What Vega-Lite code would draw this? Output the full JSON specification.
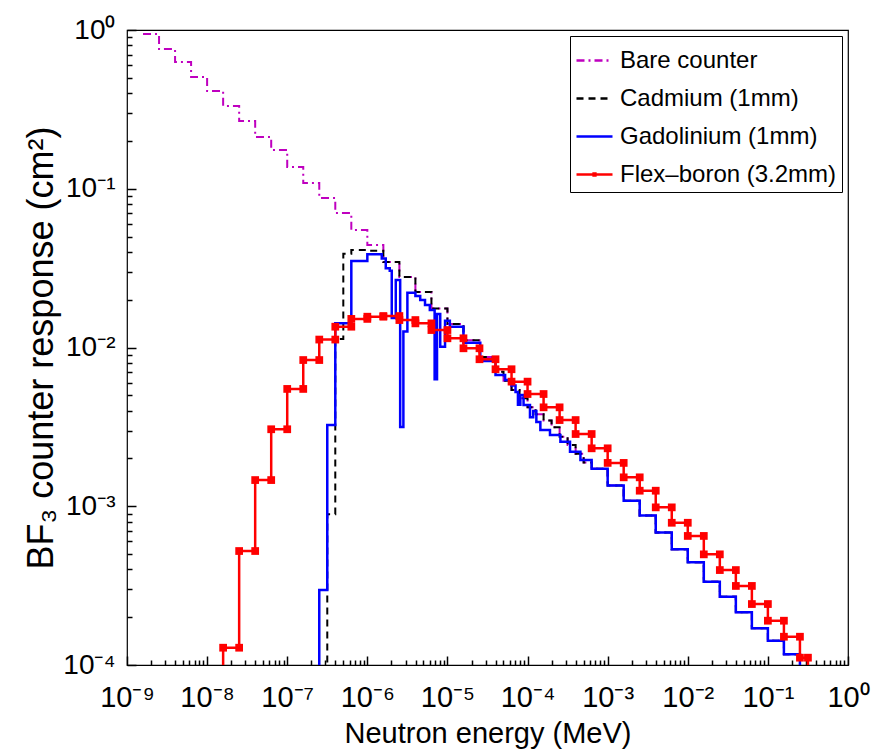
{
  "$schema": "https://vega.github.io/schema/vega-lite/v6.json",
  "autosize": {"type": "none"},
  "width": 721,
  "height": 635,
  "padding": {"left": 127, "top": 30, "right": 33, "bottom": 91},
  "background": "white",
  "config": {
    "font": "Liberation Sans",
    "view": {"stroke": "black", "strokeWidth": 1.2, "fill": null},
    "axis": {"labelColor": "black", "titleColor": "black", "titleFontWeight": "normal", "grid": false, "domain": false, "labelOverlap": false, "labelFlush": false, "labelBound": false}
  },
  "data": {"values": [
    {"s":"Bare counter","E":1.585e-9,"R":0.9441},
    {"s":"Bare counter","E":2.512e-9,"R":0.7586},
    {"s":"Bare counter","E":3.981e-9,"R":0.6281},
    {"s":"Bare counter","E":6.310e-9,"R":0.5058},
    {"s":"Bare counter","E":1e-8,"R":0.4130},
    {"s":"Bare counter","E":1.585e-8,"R":0.3319},
    {"s":"Bare counter","E":2.512e-8,"R":0.2673},
    {"s":"Bare counter","E":3.981e-8,"R":0.2118},
    {"s":"Bare counter","E":6.310e-8,"R":0.1754},
    {"s":"Bare counter","E":1e-7,"R":0.1371},
    {"s":"Bare counter","E":1.585e-7,"R":0.1086},
    {"s":"Bare counter","E":2.512e-7,"R":0.0875},
    {"s":"Bare counter","E":3.981e-7,"R":0.07031},
    {"s":"Bare counter","E":6.310e-7,"R":0.05495},
    {"s":"Bare counter","E":1e-6,"R":0.04426},
    {"s":"Bare counter","E":1.585e-6,"R":0.03451},
    {"s":"Bare counter","E":2.512e-6,"R":0.02780},
    {"s":"Bare counter","E":3.981e-6,"R":0.02239},
    {"s":"Bare counter","E":6.310e-6,"R":0.01758},
    {"s":"Bare counter","E":1e-5,"R":0.01406},
    {"s":"Bare counter","E":1.585e-5,"R":0.01109},
    {"s":"Bare counter","E":2.512e-5,"R":0.00871},
    {"s":"Bare counter","E":3.981e-5,"R":0.007047},
    {"s":"Bare counter","E":5.012e-5,"R":0.00618},
    {"s":"Bare counter","E":6.310e-5,"R":0.005395},
    {"s":"Bare counter","E":7.943e-5,"R":0.004786},
    {"s":"Bare counter","E":1e-4,"R":0.004198},
    {"s":"Bare counter","E":1.259e-4,"R":0.003802},
    {"s":"Bare counter","E":1.585e-4,"R":0.003467},
    {"s":"Bare counter","E":1.995e-4,"R":0.003141},
    {"s":"Bare counter","E":2.512e-4,"R":0.002742},
    {"s":"Bare counter","E":3.162e-4,"R":0.002432},
    {"s":"Bare counter","E":3.981e-4,"R":0.002138},
    {"s":"Bare counter","E":5.012e-4,"R":0.001884},
    {"s":"Bare counter","E":6.310e-4,"R":0.001722},
    {"s":"Bare counter","E":1e-3,"R":0.001349},
    {"s":"Bare counter","E":1.585e-3,"R":0.001084},
    {"s":"Bare counter","E":2.512e-3,"R":0.000873},
    {"s":"Bare counter","E":3.981e-3,"R":0.0006823},
    {"s":"Bare counter","E":6.310e-3,"R":0.0005358},
    {"s":"Bare counter","E":1e-2,"R":0.0004436},
    {"s":"Bare counter","E":1.585e-2,"R":0.000335},
    {"s":"Bare counter","E":2.512e-2,"R":0.0002692},
    {"s":"Bare counter","E":3.981e-2,"R":0.0002148},
    {"s":"Bare counter","E":6.310e-2,"R":0.0001702},
    {"s":"Bare counter","E":0.1,"R":0.0001422},
    {"s":"Bare counter","E":0.1585,"R":0.0001167},
    {"s":"Bare counter","E":0.2512,"R":0.0001167},

    {"s":"Cadmium (1mm)","E":2.818e-7,"R":1e-6},
    {"s":"Cadmium (1mm)","E":3.162e-7,"R":0.0008892},
    {"s":"Cadmium (1mm)","E":3.981e-7,"R":0.0113},
    {"s":"Cadmium (1mm)","E":5.012e-7,"R":0.0389},
    {"s":"Cadmium (1mm)","E":6.310e-7,"R":0.04111},
    {"s":"Cadmium (1mm)","E":1e-6,"R":0.04074},
    {"s":"Cadmium (1mm)","E":1.585e-6,"R":0.03451},
    {"s":"Cadmium (1mm)","E":2.512e-6,"R":0.02780},
    {"s":"Cadmium (1mm)","E":3.981e-6,"R":0.02239},
    {"s":"Cadmium (1mm)","E":6.310e-6,"R":0.01758},
    {"s":"Cadmium (1mm)","E":1e-5,"R":0.01406},
    {"s":"Cadmium (1mm)","E":1.585e-5,"R":0.01109},
    {"s":"Cadmium (1mm)","E":2.512e-5,"R":0.00871},
    {"s":"Cadmium (1mm)","E":3.981e-5,"R":0.007047},
    {"s":"Cadmium (1mm)","E":5.012e-5,"R":0.00618},
    {"s":"Cadmium (1mm)","E":6.310e-5,"R":0.005395},
    {"s":"Cadmium (1mm)","E":7.943e-5,"R":0.004786},
    {"s":"Cadmium (1mm)","E":1e-4,"R":0.004198},
    {"s":"Cadmium (1mm)","E":1.259e-4,"R":0.003802},
    {"s":"Cadmium (1mm)","E":1.585e-4,"R":0.003467},
    {"s":"Cadmium (1mm)","E":1.995e-4,"R":0.003141},
    {"s":"Cadmium (1mm)","E":2.512e-4,"R":0.002742},
    {"s":"Cadmium (1mm)","E":3.162e-4,"R":0.002432},
    {"s":"Cadmium (1mm)","E":3.981e-4,"R":0.002138},
    {"s":"Cadmium (1mm)","E":5.012e-4,"R":0.001884},
    {"s":"Cadmium (1mm)","E":6.310e-4,"R":0.001722},
    {"s":"Cadmium (1mm)","E":1e-3,"R":0.001349},
    {"s":"Cadmium (1mm)","E":1.585e-3,"R":0.001084},
    {"s":"Cadmium (1mm)","E":2.512e-3,"R":0.000873},
    {"s":"Cadmium (1mm)","E":3.981e-3,"R":0.0006823},
    {"s":"Cadmium (1mm)","E":6.310e-3,"R":0.0005358},
    {"s":"Cadmium (1mm)","E":1e-2,"R":0.0004436},
    {"s":"Cadmium (1mm)","E":1.585e-2,"R":0.000335},
    {"s":"Cadmium (1mm)","E":2.512e-2,"R":0.0002692},
    {"s":"Cadmium (1mm)","E":3.981e-2,"R":0.0002148},
    {"s":"Cadmium (1mm)","E":6.310e-2,"R":0.0001702},
    {"s":"Cadmium (1mm)","E":0.1,"R":0.0001422},
    {"s":"Cadmium (1mm)","E":0.1585,"R":0.0001167},
    {"s":"Cadmium (1mm)","E":0.2512,"R":0.0001167},

    {"s":"Gadolinium (1mm)","E":2.239e-7,"R":1e-6},
    {"s":"Gadolinium (1mm)","E":2.512e-7,"R":0.0002965},
    {"s":"Gadolinium (1mm)","E":3.162e-7,"R":0.003251},
    {"s":"Gadolinium (1mm)","E":3.981e-7,"R":0.01419},
    {"s":"Gadolinium (1mm)","E":6.310e-7,"R":0.03508},
    {"s":"Gadolinium (1mm)","E":1e-6,"R":0.03864},
    {"s":"Gadolinium (1mm)","E":1.514e-6,"R":0.03631},
    {"s":"Gadolinium (1mm)","E":1.698e-6,"R":0.03162},
    {"s":"Gadolinium (1mm)","E":1.905e-6,"R":0.03048},
    {"s":"Gadolinium (1mm)","E":2.018e-6,"R":0.01535},
    {"s":"Gadolinium (1mm)","E":2.265e-6,"R":0.02661},
    {"s":"Gadolinium (1mm)","E":2.570e-6,"R":0.003162},
    {"s":"Gadolinium (1mm)","E":2.818e-6,"R":0.01259},
    {"s":"Gadolinium (1mm)","E":3.162e-6,"R":0.02213},
    {"s":"Gadolinium (1mm)","E":3.981e-6,"R":0.02109},
    {"s":"Gadolinium (1mm)","E":4.571e-6,"R":0.01991},
    {"s":"Gadolinium (1mm)","E":5.248e-6,"R":0.01854},
    {"s":"Gadolinium (1mm)","E":6.026e-6,"R":0.01722},
    {"s":"Gadolinium (1mm)","E":6.918e-6,"R":0.00631},
    {"s":"Gadolinium (1mm)","E":7.413e-6,"R":0.01626},
    {"s":"Gadolinium (1mm)","E":8.128e-6,"R":0.01012},
    {"s":"Gadolinium (1mm)","E":9.333e-6,"R":0.01476},
    {"s":"Gadolinium (1mm)","E":1.072e-5,"R":0.01349},
    {"s":"Gadolinium (1mm)","E":1.585e-5,"R":0.01072},
    {"s":"Gadolinium (1mm)","E":2.570e-5,"R":0.008222},
    {"s":"Gadolinium (1mm)","E":3.981e-5,"R":0.006714},
    {"s":"Gadolinium (1mm)","E":5.248e-5,"R":0.006237},
    {"s":"Gadolinium (1mm)","E":6.310e-5,"R":0.005754},
    {"s":"Gadolinium (1mm)","E":7.079e-5,"R":0.005248},
    {"s":"Gadolinium (1mm)","E":7.586e-5,"R":0.004365},
    {"s":"Gadolinium (1mm)","E":8.128e-5,"R":0.005012},
    {"s":"Gadolinium (1mm)","E":8.913e-5,"R":0.004345},
    {"s":"Gadolinium (1mm)","E":1.072e-4,"R":0.003631},
    {"s":"Gadolinium (1mm)","E":1.175e-4,"R":0.003981},
    {"s":"Gadolinium (1mm)","E":1.288e-4,"R":0.003388},
    {"s":"Gadolinium (1mm)","E":1.445e-4,"R":0.00302},
    {"s":"Gadolinium (1mm)","E":1.905e-4,"R":0.002812},
    {"s":"Gadolinium (1mm)","E":2.570e-4,"R":0.002553},
    {"s":"Gadolinium (1mm)","E":3.388e-4,"R":0.002208},
    {"s":"Gadolinium (1mm)","E":4.571e-4,"R":0.001954},
    {"s":"Gadolinium (1mm)","E":6.310e-4,"R":0.001722},
    {"s":"Gadolinium (1mm)","E":1e-3,"R":0.001349},
    {"s":"Gadolinium (1mm)","E":1.585e-3,"R":0.001084},
    {"s":"Gadolinium (1mm)","E":2.512e-3,"R":0.000873},
    {"s":"Gadolinium (1mm)","E":3.981e-3,"R":0.0006823},
    {"s":"Gadolinium (1mm)","E":6.310e-3,"R":0.0005358},
    {"s":"Gadolinium (1mm)","E":1e-2,"R":0.0004436},
    {"s":"Gadolinium (1mm)","E":1.585e-2,"R":0.000335},
    {"s":"Gadolinium (1mm)","E":2.512e-2,"R":0.0002692},
    {"s":"Gadolinium (1mm)","E":3.981e-2,"R":0.0002148},
    {"s":"Gadolinium (1mm)","E":6.310e-2,"R":0.0001702},
    {"s":"Gadolinium (1mm)","E":0.1,"R":0.0001422},
    {"s":"Gadolinium (1mm)","E":0.1585,"R":0.0001167},
    {"s":"Gadolinium (1mm)","E":0.2512,"R":1e-6},
    {"s":"Gadolinium (1mm)","E":0.2818,"R":1e-6},

    {"s":"Flex–boron (3.2mm)","i":0,"E":1.585e-8,"R":1e-6},
    {"s":"Flex–boron (3.2mm)","i":1,"E":1.585e-8,"R":1.285e-4},
    {"s":"Flex–boron (3.2mm)","i":2,"E":2.512e-8,"R":1.285e-4},
    {"s":"Flex–boron (3.2mm)","i":3,"E":2.512e-8,"R":5.224e-4},
    {"s":"Flex–boron (3.2mm)","i":4,"E":3.981e-8,"R":5.224e-4},
    {"s":"Flex–boron (3.2mm)","i":5,"E":3.981e-8,"R":1.462e-3},
    {"s":"Flex–boron (3.2mm)","i":6,"E":6.310e-8,"R":1.462e-3},
    {"s":"Flex–boron (3.2mm)","i":7,"E":6.310e-8,"R":3.055e-3},
    {"s":"Flex–boron (3.2mm)","i":8,"E":1e-7,"R":3.055e-3},
    {"s":"Flex–boron (3.2mm)","i":9,"E":1e-7,"R":5.483e-3},
    {"s":"Flex–boron (3.2mm)","i":10,"E":1.585e-7,"R":5.483e-3},
    {"s":"Flex–boron (3.2mm)","i":11,"E":1.585e-7,"R":8.337e-3},
    {"s":"Flex–boron (3.2mm)","i":12,"E":2.512e-7,"R":8.337e-3},
    {"s":"Flex–boron (3.2mm)","i":13,"E":2.512e-7,"R":1.122e-2},
    {"s":"Flex–boron (3.2mm)","i":14,"E":3.981e-7,"R":1.122e-2},
    {"s":"Flex–boron (3.2mm)","i":15,"E":3.981e-7,"R":1.352e-2},
    {"s":"Flex–boron (3.2mm)","i":16,"E":6.310e-7,"R":1.352e-2},
    {"s":"Flex–boron (3.2mm)","i":17,"E":6.310e-7,"R":1.514e-2},
    {"s":"Flex–boron (3.2mm)","i":18,"E":1e-6,"R":1.514e-2},
    {"s":"Flex–boron (3.2mm)","i":19,"E":1e-6,"R":1.563e-2},
    {"s":"Flex–boron (3.2mm)","i":20,"E":1.585e-6,"R":1.563e-2},
    {"s":"Flex–boron (3.2mm)","i":21,"E":1.585e-6,"R":1.578e-2},
    {"s":"Flex–boron (3.2mm)","i":22,"E":2.512e-6,"R":1.578e-2},
    {"s":"Flex–boron (3.2mm)","i":23,"E":2.512e-6,"R":1.489e-2},
    {"s":"Flex–boron (3.2mm)","i":24,"E":3.981e-6,"R":1.489e-2},
    {"s":"Flex–boron (3.2mm)","i":25,"E":3.981e-6,"R":1.419e-2},
    {"s":"Flex–boron (3.2mm)","i":26,"E":6.310e-6,"R":1.419e-2},
    {"s":"Flex–boron (3.2mm)","i":27,"E":6.310e-6,"R":1.288e-2},
    {"s":"Flex–boron (3.2mm)","i":28,"E":1e-5,"R":1.288e-2},
    {"s":"Flex–boron (3.2mm)","i":29,"E":1e-5,"R":1.143e-2},
    {"s":"Flex–boron (3.2mm)","i":30,"E":1.585e-5,"R":1.143e-2},
    {"s":"Flex–boron (3.2mm)","i":31,"E":1.585e-5,"R":9.886e-3},
    {"s":"Flex–boron (3.2mm)","i":32,"E":2.512e-5,"R":9.886e-3},
    {"s":"Flex–boron (3.2mm)","i":33,"E":2.512e-5,"R":8.433e-3},
    {"s":"Flex–boron (3.2mm)","i":34,"E":3.981e-5,"R":8.433e-3},
    {"s":"Flex–boron (3.2mm)","i":35,"E":3.981e-5,"R":7.295e-3},
    {"s":"Flex–boron (3.2mm)","i":36,"E":6.310e-5,"R":7.295e-3},
    {"s":"Flex–boron (3.2mm)","i":37,"E":6.310e-5,"R":6.095e-3},
    {"s":"Flex–boron (3.2mm)","i":38,"E":1e-4,"R":6.095e-3},
    {"s":"Flex–boron (3.2mm)","i":39,"E":1e-4,"R":5.093e-3},
    {"s":"Flex–boron (3.2mm)","i":40,"E":1.585e-4,"R":5.093e-3},
    {"s":"Flex–boron (3.2mm)","i":41,"E":1.585e-4,"R":4.198e-3},
    {"s":"Flex–boron (3.2mm)","i":42,"E":2.512e-4,"R":4.198e-3},
    {"s":"Flex–boron (3.2mm)","i":43,"E":2.512e-4,"R":3.491e-3},
    {"s":"Flex–boron (3.2mm)","i":44,"E":3.981e-4,"R":3.491e-3},
    {"s":"Flex–boron (3.2mm)","i":45,"E":3.981e-4,"R":2.851e-3},
    {"s":"Flex–boron (3.2mm)","i":46,"E":6.310e-4,"R":2.851e-3},
    {"s":"Flex–boron (3.2mm)","i":47,"E":6.310e-4,"R":2.317e-3},
    {"s":"Flex–boron (3.2mm)","i":48,"E":1e-3,"R":2.317e-3},
    {"s":"Flex–boron (3.2mm)","i":49,"E":1e-3,"R":1.875e-3},
    {"s":"Flex–boron (3.2mm)","i":50,"E":1.585e-3,"R":1.875e-3},
    {"s":"Flex–boron (3.2mm)","i":51,"E":1.585e-3,"R":1.521e-3},
    {"s":"Flex–boron (3.2mm)","i":52,"E":2.512e-3,"R":1.521e-3},
    {"s":"Flex–boron (3.2mm)","i":53,"E":2.512e-3,"R":1.253e-3},
    {"s":"Flex–boron (3.2mm)","i":54,"E":3.981e-3,"R":1.253e-3},
    {"s":"Flex–boron (3.2mm)","i":55,"E":3.981e-3,"R":9.84e-4},
    {"s":"Flex–boron (3.2mm)","i":56,"E":6.310e-3,"R":9.84e-4},
    {"s":"Flex–boron (3.2mm)","i":57,"E":6.310e-3,"R":7.87e-4},
    {"s":"Flex–boron (3.2mm)","i":58,"E":1e-2,"R":7.87e-4},
    {"s":"Flex–boron (3.2mm)","i":59,"E":1e-2,"R":6.501e-4},
    {"s":"Flex–boron (3.2mm)","i":60,"E":1.585e-2,"R":6.501e-4},
    {"s":"Flex–boron (3.2mm)","i":61,"E":1.585e-2,"R":4.977e-4},
    {"s":"Flex–boron (3.2mm)","i":62,"E":2.512e-2,"R":4.977e-4},
    {"s":"Flex–boron (3.2mm)","i":63,"E":2.512e-2,"R":3.963e-4},
    {"s":"Flex–boron (3.2mm)","i":64,"E":3.981e-2,"R":3.963e-4},
    {"s":"Flex–boron (3.2mm)","i":65,"E":3.981e-2,"R":3.148e-4},
    {"s":"Flex–boron (3.2mm)","i":66,"E":6.310e-2,"R":3.148e-4},
    {"s":"Flex–boron (3.2mm)","i":67,"E":6.310e-2,"R":2.421e-4},
    {"s":"Flex–boron (3.2mm)","i":68,"E":0.1,"R":2.421e-4},
    {"s":"Flex–boron (3.2mm)","i":69,"E":0.1,"R":1.901e-4},
    {"s":"Flex–boron (3.2mm)","i":70,"E":0.1585,"R":1.901e-4},
    {"s":"Flex–boron (3.2mm)","i":71,"E":0.1585,"R":1.507e-4},
    {"s":"Flex–boron (3.2mm)","i":72,"E":0.2512,"R":1.507e-4},
    {"s":"Flex–boron (3.2mm)","i":73,"E":0.2512,"R":1.112e-4},
    {"s":"Flex–boron (3.2mm)","i":74,"E":0.3162,"R":1.112e-4},
    {"s":"Flex–boron (3.2mm)","i":75,"E":0.3162,"R":1e-6}
  ]},
  "encoding": {
    "color": {"field": "s", "type": "nominal",
      "scale": {"domain": ["Bare counter", "Cadmium (1mm)", "Gadolinium (1mm)", "Flex–boron (3.2mm)"], "range": ["#BF00BF", "#000000", "#0000FF", "#FF0000"]},
      "legend": {"title": null, "orient": "top-right", "offset": 6, "labelFontSize": 24, "labelColor": "black", "labelLimit": 400, "symbolType": "stroke", "symbolSize": 1296, "symbolStrokeWidth": 2.5, "strokeColor": "black", "fillColor": "white", "padding": 5, "rowPadding": 6, "labelOffset": 6, "cornerRadius": 0,
        "encode": {"symbols": {"update": {"shape": {"signal": "datum.value === 'Flex–boron (3.2mm)' ? 'M-1,0H1M-0.05,-0.05H0.05V0.05H-0.05Z' : 'M-1,0H1'"}}}}}
    },
    "strokeDash": {"field": "s", "type": "nominal",
      "scale": {"domain": ["Bare counter", "Cadmium (1mm)", "Gadolinium (1mm)", "Flex–boron (3.2mm)"], "range": [[8, 4, 2, 4], [7, 5], [1, 0], [1, 0]]},
      "legend": {"title": null, "orient": "top-right", "offset": 6, "labelFontSize": 24, "labelColor": "black", "labelLimit": 400, "symbolType": "stroke", "symbolSize": 1296, "symbolStrokeWidth": 2.5, "strokeColor": "black", "fillColor": "white", "padding": 5, "rowPadding": 6, "labelOffset": 6, "cornerRadius": 0}
    }
  },
  "layer": [
    {
      "transform": [{"filter": "datum.s === 'Bare counter'"}],
      "mark": {"type": "line", "interpolate": "step-after", "strokeWidth": 2, "clip": true},
      "encoding": {
        "x": {"field": "E", "type": "quantitative", "scale": {"type": "log", "domain": [1e-9, 1], "nice": false},
          "axis": {"orient": "bottom", "title": "Neutron energy (MeV)", "titleFontSize": 29, "labelFontSize": 29, "titlePadding": 3,
            "values": [1e-9,2e-9,3e-9,4e-9,5e-9,6e-9,7e-9,8e-9,9e-9,1e-8,2e-8,3e-8,4e-8,5e-8,6e-8,7e-8,8e-8,9e-8,1e-7,2e-7,3e-7,4e-7,5e-7,6e-7,7e-7,8e-7,9e-7,1e-6,2e-6,3e-6,4e-6,5e-6,6e-6,7e-6,8e-6,9e-6,1e-5,2e-5,3e-5,4e-5,5e-5,6e-5,7e-5,8e-5,9e-5,1e-4,2e-4,3e-4,4e-4,5e-4,6e-4,7e-4,8e-4,9e-4,1e-3,2e-3,3e-3,4e-3,5e-3,6e-3,7e-3,8e-3,9e-3,1e-2,2e-2,3e-2,4e-2,5e-2,6e-2,7e-2,8e-2,9e-2,0.1,0.2,0.3,0.4,0.5,0.6,0.7,0.8,0.9,1],
            "labelExpr": "abs(log(datum.value)/LN10 - round(log(datum.value)/LN10)) < 0.01 ? '10' + ['⁰','⁻¹','⁻²','⁻³','⁻⁴','⁻⁵','⁻⁶','⁻⁷','⁻⁸','⁻⁹'][-round(log(datum.value)/LN10)] : ''",
            "ticks": true, "tickColor": "black", "tickWidth": 1.5,
            "tickSize": {"condition": {"test": "abs(log(datum.value)/LN10 - round(log(datum.value)/LN10)) < 0.01", "value": -9}, "value": -5},
            "labelPadding": 27}},
        "y": {"field": "R", "type": "quantitative", "scale": {"type": "log", "domain": [1e-4, 1], "nice": false},
          "axis": {"orient": "left", "title": "BF₃ counter response (cm²)", "titleFontSize": 36, "labelFontSize": 28, "titlePadding": 2,
            "values": [1e-4,2e-4,3e-4,4e-4,5e-4,6e-4,7e-4,8e-4,9e-4,1e-3,2e-3,3e-3,4e-3,5e-3,6e-3,7e-3,8e-3,9e-3,1e-2,2e-2,3e-2,4e-2,5e-2,6e-2,7e-2,8e-2,9e-2,0.1,0.2,0.3,0.4,0.5,0.6,0.7,0.8,0.9,1],
            "labelExpr": "abs(log(datum.value)/LN10 - round(log(datum.value)/LN10)) < 0.01 ? '10' + ['⁰','⁻¹','⁻²','⁻³','⁻⁴','⁻⁵','⁻⁶','⁻⁷','⁻⁸','⁻⁹'][-round(log(datum.value)/LN10)] : ''",
            "ticks": true, "tickColor": "black", "tickWidth": 1.5,
            "tickSize": {"condition": {"test": "abs(log(datum.value)/LN10 - round(log(datum.value)/LN10)) < 0.01", "value": -9}, "value": -5},
            "labelPadding": 21}}
      }
    },
    {
      "transform": [{"filter": "datum.s === 'Cadmium (1mm)'"}],
      "mark": {"type": "line", "interpolate": "step-after", "strokeWidth": 2, "clip": true},
      "encoding": {
        "x": {"field": "E", "type": "quantitative"},
        "y": {"field": "R", "type": "quantitative"}
      }
    },
    {
      "transform": [{"filter": "datum.s === 'Gadolinium (1mm)'"}],
      "mark": {"type": "line", "interpolate": "step-after", "strokeWidth": 2.5, "clip": true},
      "encoding": {
        "x": {"field": "E", "type": "quantitative"},
        "y": {"field": "R", "type": "quantitative"}
      }
    },
    {
      "transform": [{"filter": "datum.s === 'Flex–boron (3.2mm)'"}],
      "mark": {"type": "line", "strokeWidth": 2.5, "clip": true},
      "encoding": {
        "x": {"field": "E", "type": "quantitative"},
        "y": {"field": "R", "type": "quantitative"},
        "order": {"field": "i", "type": "quantitative"}
      }
    },
    {
      "transform": [{"filter": "datum.s === 'Flex–boron (3.2mm)'"}],
      "mark": {"type": "square", "size": 60, "filled": true, "opacity": 1, "clip": true},
      "encoding": {
        "x": {"field": "E", "type": "quantitative"},
        "y": {"field": "R", "type": "quantitative"}
      }
    }
  ]
}
